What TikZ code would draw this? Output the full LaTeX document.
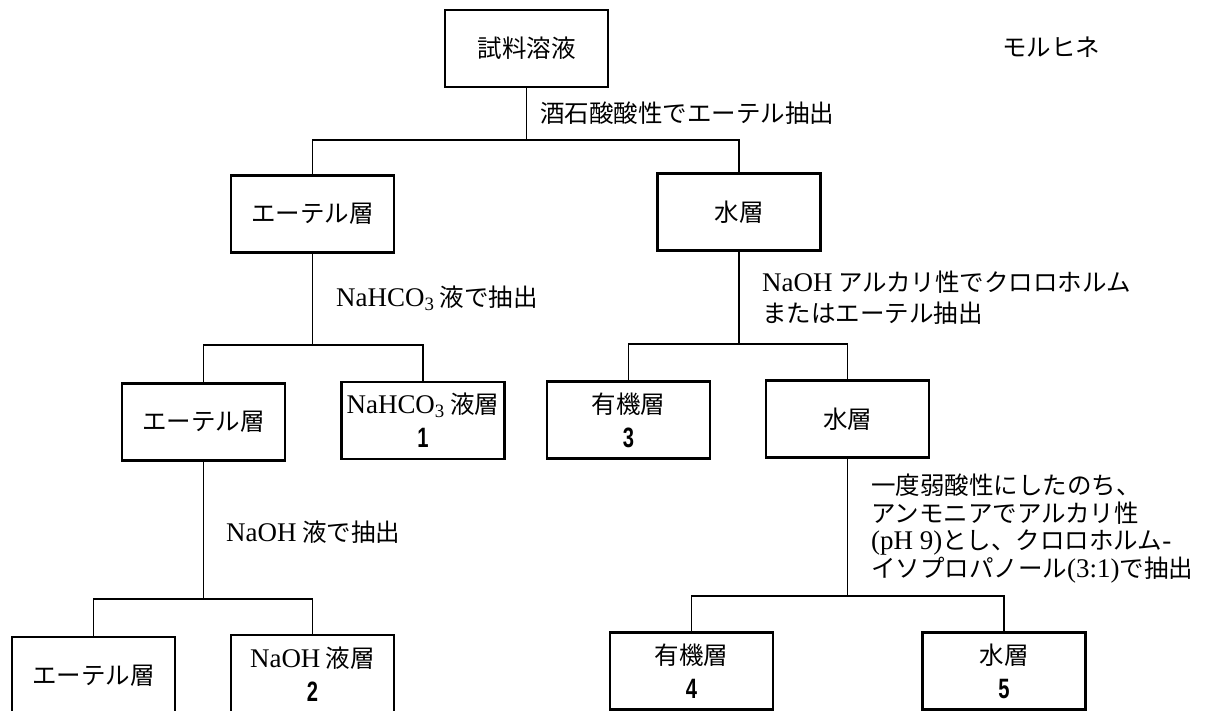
\documentclass[tikz,border=0pt]{standalone}
\usepackage{fontspec}
\setmainfont{Noto Sans CJK JP}
\newfontfamily\lat{Liberation Serif}[Scale=1.1]
\newfontfamily\numfnt{Liberation Sans}[FakeStretch=0.72]
\begin{document}
\begin{tikzpicture}[x=1pt,y=-1pt,
  box/.style={draw, line width=2.2pt, minimum width=163pt, minimum height=77pt, inner sep=0pt, align=center, font=\fontsize{24.5}{34}\selectfont},
  lbl/.style={anchor=west, inner sep=0pt, align=left},
  conn/.style={line width=1.8pt}]
\useasboundingbox (0,0) rectangle (1212,711);
\newcommand{\dg}[1]{{\numfnt\bfseries\fontsize{28}{34}\selectfont #1}}
% boxes
\node[box] (src) at (526.5,48.5) {試料溶液};
\node[box] (e1) at (312.5,214) {エーテル層};
\node[box] (w1) at (739,212) {水層};
\node[box] (e2) at (203.5,422) {エーテル層};
\node[box] (n1) at (423,420.5) {{\lat NaHCO\textsubscript{3}} 液層\\\dg{1}};
\node[box] (o3) at (628.5,420) {有機層\\\dg{3}};
\node[box] (w2) at (847.5,419) {水層};
\node[box, minimum height=78pt] (e3) at (93.5,676) {エーテル層};
\node[box, minimum height=78pt] (n2) at (312.5,674) {{\lat NaOH} 液層\\\dg{2}};
\node[box] (o4) at (691.5,671) {有機層\\\dg{4}};
\node[box] (w5) at (1004,671) {水層\\\dg{5}};
% junctions
\coordinate (j1) at (526.5,140);
\coordinate (j2) at (312.5,345);
\coordinate (j3) at (739,344);
\coordinate (j4) at (203.5,599);
\coordinate (j5) at (847.5,596);
% connectors
\draw[conn] (src.south) -- (j1);
\draw[conn] (e1.north) -- (e1.north |- j1) -- (w1.north |- j1) -- (w1.north);
\draw[conn] (e1.south) -- (j2);
\draw[conn] (e2.north) -- (e2.north |- j2) -- (n1.north |- j2) -- (n1.north);
\draw[conn] (w1.south) -- (j3);
\draw[conn] (o3.north) -- (o3.north |- j3) -- (w2.north |- j3) -- (w2.north);
\draw[conn] (e2.south) -- (j4);
\draw[conn] (e3.north) -- (e3.north |- j4) -- (n2.north |- j4) -- (n2.north);
\draw[conn] (w2.south) -- (j5);
\draw[conn] (o4.north) -- (o4.north |- j5) -- (w5.north |- j5) -- (w5.north);
% labels
\begin{scope}[every node/.style={font=\fontsize{24.5}{31}\selectfont}]
\node[lbl] (title) at (1002,47) {モルヒネ};
\node[lbl] (l1) at (540,113) {酒石酸酸性でエーテル抽出};
\node[lbl] (l2) at (336,298) {{\lat NaHCO\textsubscript{3}} 液で抽出};
\node[lbl] (l3) at (762,297.5) {{\lat NaOH} アルカリ性でクロロホルム\\またはエーテル抽出};
\node[lbl] (l4) at (226,532) {{\lat NaOH} 液で抽出};
\end{scope}
\node[lbl, font=\fontsize{24.5}{27.7}\selectfont] (l5) at (871,528.5) {一度弱酸性にしたのち、\\アンモニアでアルカリ性\\{\lat (pH 9)}とし、クロロホルム{\lat -}\\イソプロパノール{\lat (3:1)}で抽出};
\end{tikzpicture}
\end{document}
